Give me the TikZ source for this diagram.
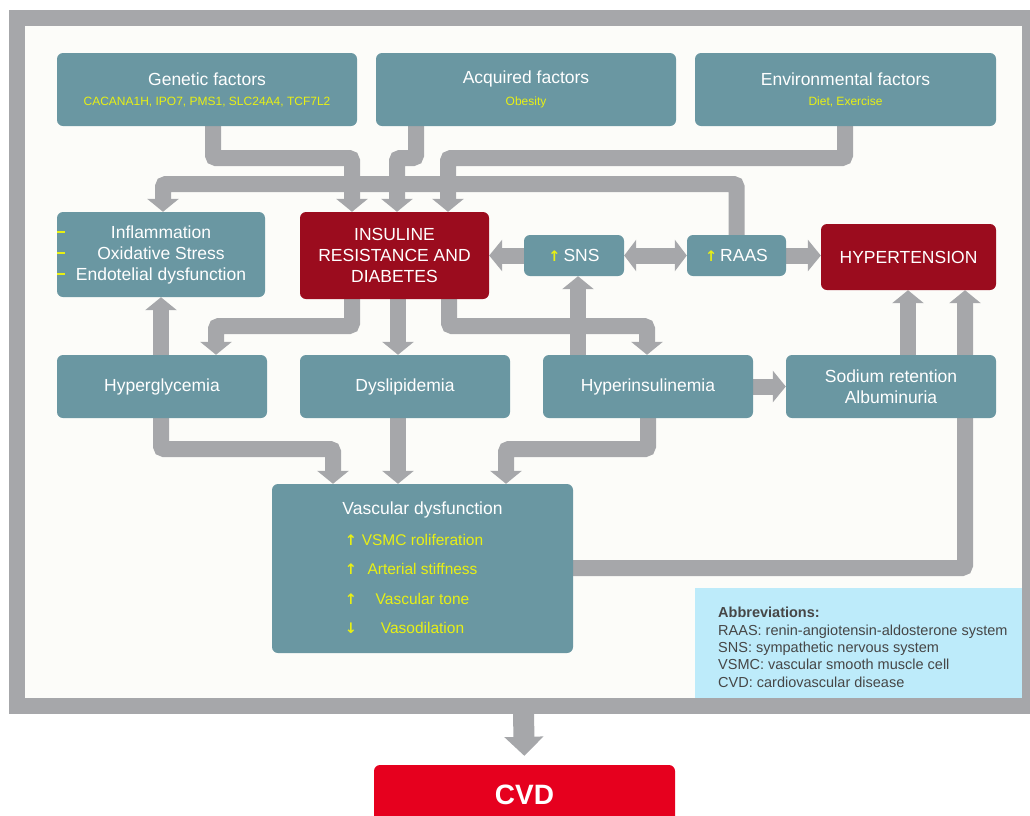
\documentclass[tikz,border=0pt]{standalone}
\usepackage{fontspec}
\setmainfont{Liberation Sans}
\newfontfamily\symf{DejaVu Sans}[BoldFont={DejaVu Sans Bold}]
\usetikzlibrary{arrows.meta}
\definecolor{teal1}{RGB}{106,151,162}
\definecolor{dred}{RGB}{155,12,30}
\definecolor{cvdred}{RGB}{230,0,30}
\definecolor{agray}{RGB}{166,167,170}
\definecolor{cream}{RGB}{252,252,249}
\definecolor{abbrblue}{RGB}{189,235,250}
\definecolor{yel}{RGB}{232,240,20}
\definecolor{dtext}{RGB}{70,70,70}
\pgfdeclarelayer{back}
\pgfdeclarelayer{arrows}
\pgfsetlayers{back,arrows,main}
\newcommand{\upar}{{\symf\bfseries\fontsize{14.5}{16}\selectfont ↑}}
\newcommand{\dnar}{{\symf\bfseries\fontsize{14.5}{16}\selectfont ↓}}
\begin{document}
\begin{tikzpicture}[x=1pt,y=-1pt,
  box/.style={rounded corners=6pt, inner sep=0pt, text=white, align=center,
              font=\fontsize{17.5}{21}\selectfont},
  tbox/.style={box, fill=teal1},
  rbox/.style={box, fill=dred},
  ttl/.style={inner sep=0pt, text=white, font=\fontsize{17.5}{21}\selectfont},
  sub/.style={inner sep=0pt, text=yel, font=\fontsize{12}{14}\selectfont},
  yt/.style={inner sep=0pt, text=yel, font=\fontsize{15.5}{18}\selectfont},
  ab/.style={inner sep=0pt, text=dtext, anchor=base west, font=\fontsize{14.5}{17.4}\selectfont},
  arr/.style={draw=agray, line width=16pt, rounded corners=3pt,
              -{Triangle[width=31pt,length=13pt]}},
  darr/.style={draw=agray, line width=16pt,
              {Triangle[width=31pt,length=12pt]}-{Triangle[width=31pt,length=12pt]}},
  ydash/.style={draw=yel, line width=2pt}
]
\useasboundingbox (0,0) rectangle (1030,815);
\clip (0,0) rectangle (1030,815);

% frame
\begin{pgfonlayer}{back}
\node[draw=agray, fill=cream, line width=16pt, minimum width=1013pt,
      minimum height=688pt, inner sep=0pt] (frame) at (523.5,362) {};
\end{pgfonlayer}

% top row
\node[tbox, minimum width=300pt, minimum height=73pt] (gen) at (207,89.5) {};
\node[ttl] (gent) at (207,79) {Genetic factors};
\node[sub] (gens) at (207,102) {CACANA1H, IPO7, PMS1, SLC24A4, TCF7L2};
\node[tbox, minimum width=300pt, minimum height=73pt] (acq) at (526,89.5) {};
\node[ttl] (acqt) at (526,79) {Acquired factors};
\node[sub] (acqs) at (526,102) {Obesity};
\node[tbox, minimum width=301pt, minimum height=73pt] (env) at (845.5,89.5) {};
\node[ttl] (envt) at (845.5,79) {Environmental factors};
\node[sub] (envs) at (845.5,102) {Diet, Exercise};

% second row
\node[tbox, minimum width=208pt, minimum height=85pt] (infl) at (161,254.5)
  {Inflammation\\Oxidative Stress\\Endotelial dysfunction};
\coordinate (d1) at (57,232);
\coordinate (d2) at (57,253);
\coordinate (d3) at (57,274);
\draw[ydash] (d1) -- ++(8,0);
\draw[ydash] (d2) -- ++(8,0);
\draw[ydash] (d3) -- ++(8,0);
\node[rbox, minimum width=189pt, minimum height=87pt] (ins) at (394.5,255.5)
  {INSULINE\\RESISTANCE AND\\DIABETES};
\node[tbox, minimum width=100pt, minimum height=41pt] (sns) at (574,255.5)
  {\textcolor{yel}{\upar}\,SNS};
\node[tbox, minimum width=99pt, minimum height=41pt] (raas) at (736.5,255.5)
  {\textcolor{yel}{\upar}\,RAAS};
\node[rbox, minimum width=175pt, minimum height=66pt] (hyp) at (908.5,257)
  {HYPERTENSION};

% third row
\node[tbox, minimum width=210pt, minimum height=63pt] (hgly) at (162,386.5) {Hyperglycemia};
\node[tbox, minimum width=210pt, minimum height=63pt] (dysl) at (405,386.5) {Dyslipidemia};
\node[tbox, minimum width=210pt, minimum height=63pt] (hins) at (648,386.5) {Hyperinsulinemia};
\node[tbox, minimum width=210pt, minimum height=63pt] (sod) at (891,386.5)
  {Sodium retention\\Albuminuria};

% vascular dysfunction
\node[tbox, minimum width=301pt, minimum height=169pt] (vasc) at (422.5,568.5) {};
\node[ttl] (vasct) at (422.5,510) {Vascular dysfunction};
\node[yt] (va1) at (351,540) {\upar};
\node[yt] (vt1) at (422.5,540) {VSMC roliferation};
\node[yt] (va2) at (351,569) {\upar};
\node[yt] (vt2) at (422.5,569) {Arterial stiffness};
\node[yt] (va3) at (351,599) {\upar};
\node[yt] (vt3) at (422.5,599) {Vascular tone};
\node[yt] (va4) at (351,628) {\dnar};
\node[yt] (vt4) at (422.5,628) {Vasodilation};

% abbreviations
\node[fill=abbrblue, minimum width=327pt, minimum height=110pt, inner sep=0pt] (abbr) at (858.5,643) {};
\node[ab, font=\bfseries\fontsize{14.5}{17.4}\selectfont] (ab0) at (718,617) {Abbreviations:};
\node[ab] (ab1) at (718,635) {RAAS: renin-angiotensin-aldosterone system};
\node[ab] (ab2) at (718,652) {SNS: sympathetic nervous system};
\node[ab] (ab3) at (718,669) {VSMC: vascular smooth muscle cell};
\node[ab] (ab4) at (718,687) {CVD: cardiovascular disease};

% CVD
\node[box, fill=cvdred, minimum width=301pt, minimum height=60pt,
      font=\bfseries\fontsize{28}{32}\selectfont] (cvd) at (524.5,795) {CVD};

% arrows
\begin{pgfonlayer}{arrows}
\draw[arr] (raas.north) |- (163,184) -- (163,0 |- infl.north);
\draw[arr] (213,0 |- gen.south) |- (352,158) -- (352,0 |- ins.north);
\draw[arr] (416,0 |- acq.south) |- (397,158) -- (397,0 |- ins.north);
\draw[arr] (845,0 |- env.south) |- (448,158) -- (448,0 |- ins.north);
\draw[arr] (sns.west) -- (ins.east |- sns.west);
\draw[darr] (sns.east) -- (raas.west);
\draw[arr] (raas.east) -- (hyp.west |- raas.east);
\draw[arr] (352,0 |- ins.south) |- (216,326) -- (216,0 |- hgly.north);
\draw[arr] (398,0 |- ins.south) -- (398,0 |- dysl.north);
\draw[arr] (449,0 |- ins.south) |- (647,326) -- (647,0 |- hins.north);
\draw[arr] (578,0 |- hins.north) -- (578,0 |- sns.south);
\draw[arr] (161,0 |- hgly.north) -- (161,0 |- infl.south);
\draw[arr] (161,0 |- hgly.south) |- (333,449) -- (333,0 |- vasc.north);
\draw[arr] (398,0 |- dysl.south) -- (398,0 |- vasc.north);
\draw[arr] (648,0 |- hins.south) |- (506,449) -- (506,0 |- vasc.north);
\draw[arr] (hins.east) -- (sod.west);
\draw[arr] (908,0 |- sod.north) -- (908,0 |- hyp.south);
\draw[arr] (vasc.east |- 0,568) -| (965,0 |- hyp.south);
\draw[draw=agray, line width=21pt, -{Triangle[width=38pt,length=19pt]},
      shorten >=9pt] (frame.south) -- (cvd.north);
\end{pgfonlayer}
\end{tikzpicture}
\end{document}
